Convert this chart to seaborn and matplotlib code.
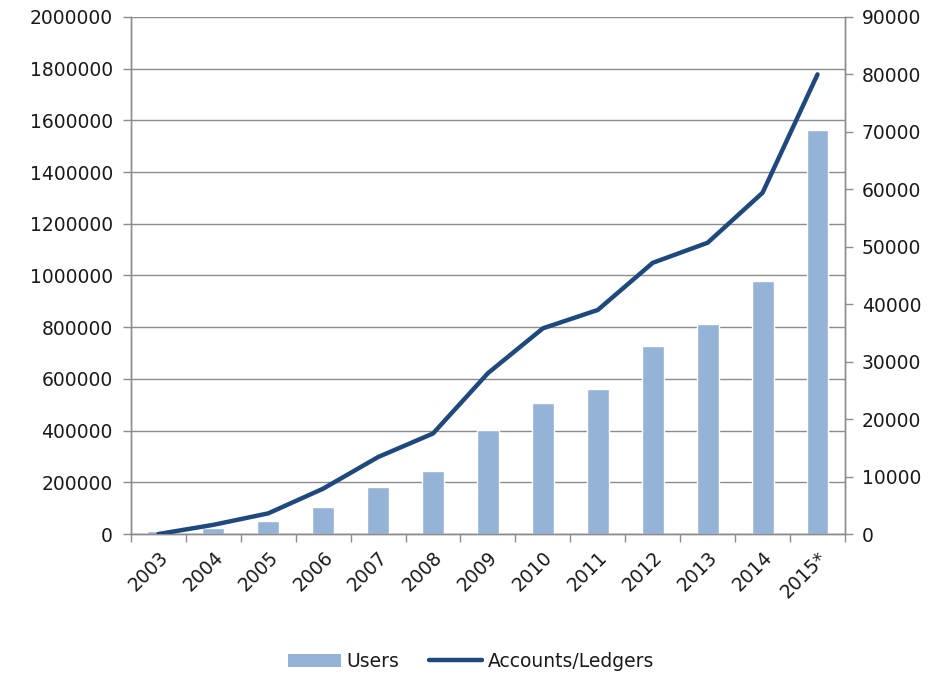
import numpy as np
import pandas as pd
import matplotlib
matplotlib.use("Agg")
import matplotlib.pyplot as plt
import seaborn as sns
from matplotlib.patches import Patch
from matplotlib.lines import Line2D

years = ["2003", "2004", "2005", "2006", "2007", "2008", "2009", "2010",
         "2011", "2012", "2013", "2014", "2015*"]
users = [10000, 24000, 51000, 105000, 183000, 245000, 402000, 507000,
         561000, 727000, 812000, 979000, 1563000]
accounts = [0, 1600, 3600, 7900, 13400, 17500, 28000, 35800,
            39000, 47200, 50700, 59400, 80000]

sns.set_theme(style="white")
plt.rcParams['font.family'] = ['DejaVu Sans']

bar_color = "#95B3D7"
line_color = "#1F497D"
grid_color = "#8C8C8C"
text_color = "#1a1a1a"
fs = 13.5

fig = plt.figure(figsize=(9.42, 6.76), dpi=100)
ax = fig.add_axes([0.139, 0.21, 0.758, 0.765])

df = pd.DataFrame({"year": years, "users": users, "accounts": accounts})
sns.barplot(data=df, x="year", y="users", ax=ax, color=bar_color,
            width=0.4, saturation=1, zorder=2)
ax.set_ylim(0, 2000000)
ax.set_yticks(np.arange(0, 2000001, 200000))
ax.set_yticklabels([str(v) for v in range(0, 2000001, 200000)])
ax.set_xlim(-0.5, len(years) - 0.5)
ax.yaxis.grid(True, color=grid_color, linewidth=1.0, zorder=0)
ax.set_axisbelow(True)
ax.set_xlabel("")
ax.set_ylabel("")

ax2 = ax.twinx()
sns.lineplot(x=np.arange(len(years)), y=df["accounts"], ax=ax2,
             color=line_color, linewidth=3.2, zorder=3)
ax2.set_ylim(0, 90000)
ax2.set_yticks(np.arange(0, 90001, 10000))
ax2.set_yticklabels([str(v) for v in range(0, 90001, 10000)])
ax2.set_ylabel("")
ax2.set_xlim(-0.5, len(years) - 0.5)

for a in (ax, ax2):
    a.spines["top"].set_visible(False)
    for s in ("left", "right", "bottom"):
        a.spines[s].set_color(grid_color)
        a.spines[s].set_linewidth(1.0)

ax.tick_params(axis="y", which="major", direction="out", length=6, width=1,
               color=grid_color, labelsize=fs, labelcolor=text_color, pad=7, left=True)
ax2.tick_params(axis="y", which="major", direction="out", length=6, width=1,
                color=grid_color, labelsize=fs, labelcolor=text_color, pad=6, right=True)

# x: labels at category centers, tick marks at category boundaries
ax.set_xticks(np.arange(len(years)))
ax.set_xticklabels(years, rotation=45, ha="right", rotation_mode="anchor")
ax.set_xticks(np.arange(-0.5, len(years), 1.0), minor=True)
ax.tick_params(axis="x", which="major", length=0, labelsize=fs,
               labelcolor=text_color, pad=10)
ax.tick_params(axis="x", which="minor", direction="out", length=6, width=1,
               color=grid_color, bottom=True)

handles = [Patch(facecolor=bar_color, edgecolor="none", label="Users"),
           Line2D([0], [0], color=line_color, linewidth=3.2, label="Accounts/Ledgers")]
fig.legend(handles=handles, loc="center", bbox_to_anchor=(0.5, 0.022),
           ncol=2, frameon=False, fontsize=fs, handlelength=2.8,
           handletextpad=0.3, columnspacing=1.6, labelcolor=text_color)

fig.savefig("out.png", dpi=100)
